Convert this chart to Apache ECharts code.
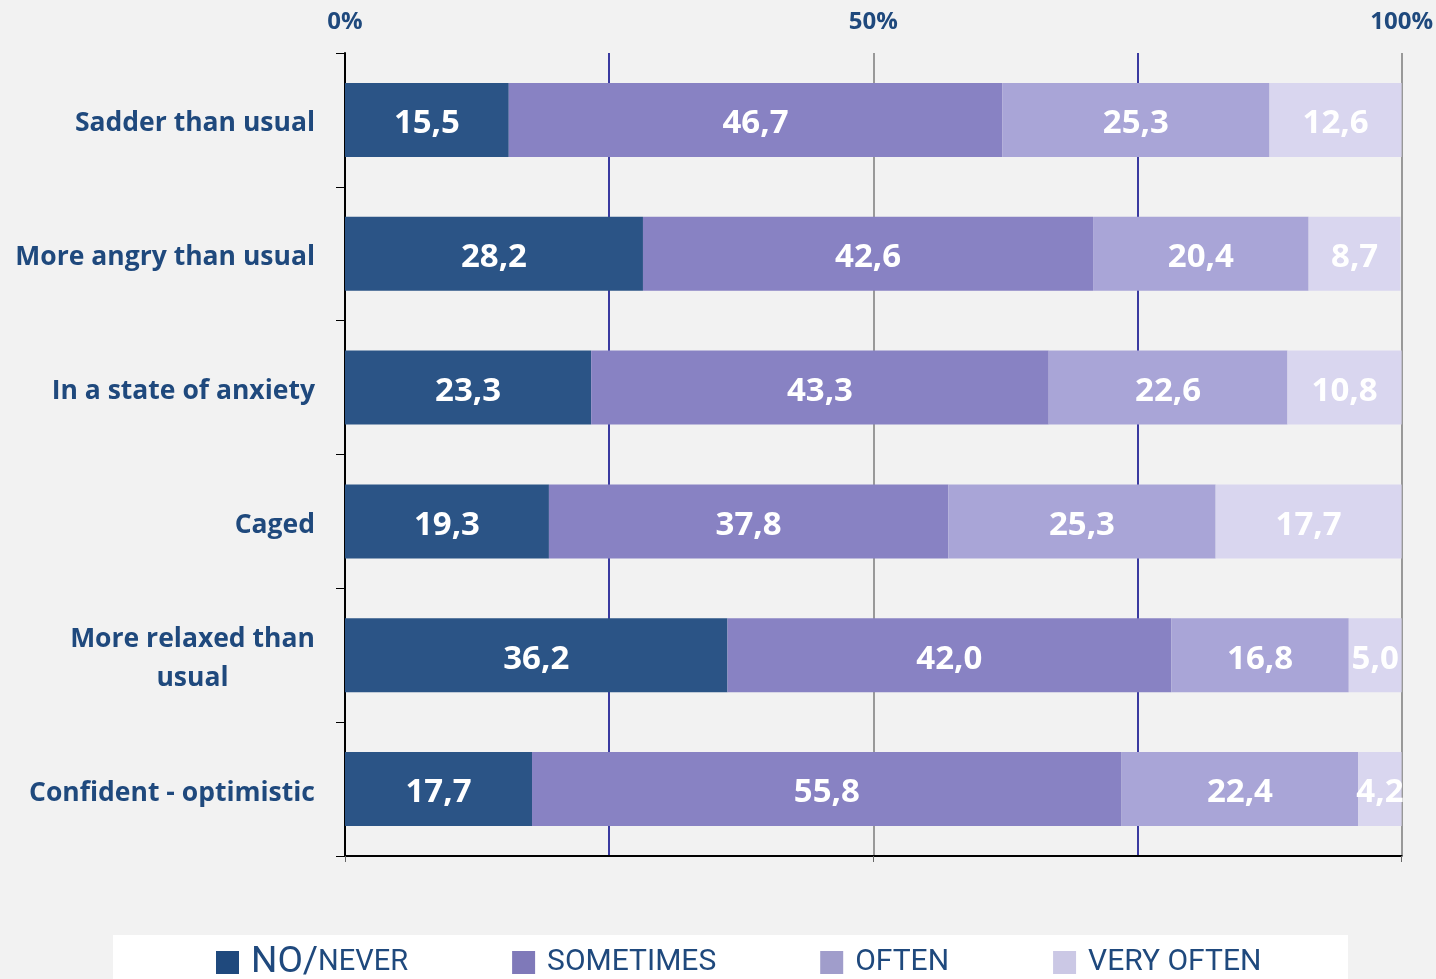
<!DOCTYPE html>
<html>
<head>
<meta charset="utf-8">
<script src="https://cdn.jsdelivr.net/npm/echarts@6/dist/echarts.min.js"></script>
<style>
  html, body { margin: 0; padding: 0; background: #f2f2f2; }
  #chart { width: 1436px; height: 979px; }
</style>
</head>
<body>
<div id="chart"></div>
<script>
// Survey answers: how often people felt each way (percent of respondents)
const categories = [
  'Sadder than usual',
  'More angry than usual',
  'In a state of anxiety',
  'Caged',
  'More relaxed than\nusual',
  'Confident - optimistic'
];
const seriesNames = ['NO/NEVER', 'SOMETIMES', 'OFTEN', 'VERY OFTEN'];
const never     = [15.5, 28.2, 23.3, 19.3, 36.2, 17.7];
const sometimes = [46.7, 42.6, 43.3, 37.8, 42.0, 55.8];
const often     = [25.3, 20.4, 22.6, 25.3, 16.8, 22.4];
const veryOften = [12.6,  8.7, 10.8, 17.7,  5.0,  4.2];
const labeledTicks = [0, 50, 100];

const barColors    = ['#2b5486', '#8882c3', '#a9a5d7', '#d9d6ef'];
const legendColors = ['#1f497d', '#7f79b9', '#a09dcb', '#cbc8e5'];
const navy = '#1f497d';
const catSize = 26.5;
const catFont = 'bold ' + catSize + 'px "Open Sans"';

// width of the longest line of the wrapped label, for centring its lines
const ctx = document.createElement('canvas').getContext('2d');
ctx.font = catFont;
const wrapWidth = Math.max(...categories.filter(c => c.includes('\n'))
  .flatMap(c => c.split('\n')).map(l => Math.ceil(ctx.measureText(l).width)));

const valueLabel = {
  show: true,
  position: 'inside',
  offset: [0, 4],
  color: '#ffffff',
  fontFamily: 'Open Sans',
  fontWeight: 'bold',
  fontSize: 33,
  formatter: p => p.value.toFixed(1).replace('.', ',')
};

const values = [never, sometimes, often, veryOften];
const series = seriesNames.map((name, i) => ({
  name,
  type: 'bar',
  stack: 'total',
  barWidth: 74,
  xAxisIndex: 0,
  data: values[i],
  itemStyle: { color: barColors[i] },
  label: valueLabel
}));

const chart = echarts.init(document.getElementById('chart'));
chart.setOption({
  backgroundColor: '#f2f2f2',
  animation: false,
  grid: { left: 345, right: 34, top: 53, bottom: 123 },
  graphic: [{
    type: 'rect',
    left: 113, top: 935, z: 1,
    shape: { width: 1235, height: 60 },
    style: { fill: '#ffffff' }
  }],
  legend: {
    left: 211,
    top: 939,
    z: 5,
    icon: 'rect',
    itemWidth: 23,
    itemHeight: 23,
    itemGap: 104,
    data: seriesNames.map((name, i) => ({ name, itemStyle: { color: legendColors[i] } })),
    formatter: name => name === 'NO/NEVER' ? '{big|NO/}{small|NEVER}' : name,
    textStyle: {
      color: navy,
      fontFamily: 'Roboto',
      fontSize: 30,
      padding: [0, 0, 0, 7],
      rich: {
        big: { fontFamily: 'Roboto', fontSize: 37, color: navy },
        small: { fontFamily: 'Roboto', fontSize: 29, color: navy }
      }
    }
  },
  xAxis: [{
    type: 'value',
    position: 'top',
    min: 0, max: 100, interval: 25,
    axisLine: { show: false },
    axisTick: { show: false },
    axisLabel: {
      margin: 19,
      color: navy,
      fontFamily: 'Open Sans',
      fontWeight: 'bold',
      fontSize: 24,
      formatter: v => labeledTicks.includes(v) ? v + '%' : ''
    },
    splitLine: {
      show: true,
      lineStyle: { color: ['#999999', '#3a3aa0'], width: 2 }
    }
  }, {
    type: 'value',
    position: 'bottom',
    min: 0, max: 100, interval: 50,
    axisLine: { show: true, lineStyle: { color: '#000000', width: 2 } },
    axisTick: { show: true, length: 6, lineStyle: { color: '#666666', width: 1 } },
    axisLabel: { show: false },
    splitLine: { show: false }
  }],
  yAxis: {
    type: 'category',
    inverse: true,
    data: categories,
    axisLine: { show: true, lineStyle: { color: '#000000', width: 2 } },
    axisTick: { show: true, length: 9, lineStyle: { color: '#000000', width: 1 } },
    axisLabel: {
      margin: 30,
      padding: [8, 0, 0, 0],
      color: navy,
      fontFamily: 'Open Sans',
      fontWeight: 'bold',
      fontSize: catSize,
      lineHeight: 39,
      formatter: v => v.includes('\n')
        ? v.split('\n').map(l => '{c|' + l + '}').join('\n')
        : v,
      rich: {
        c: {
          width: wrapWidth,
          align: 'center',
          color: navy,
          fontFamily: 'Open Sans',
          fontWeight: 'bold',
          fontSize: catSize,
          lineHeight: 39
        }
      }
    }
  },
  series
});
</script>
</body>
</html>
